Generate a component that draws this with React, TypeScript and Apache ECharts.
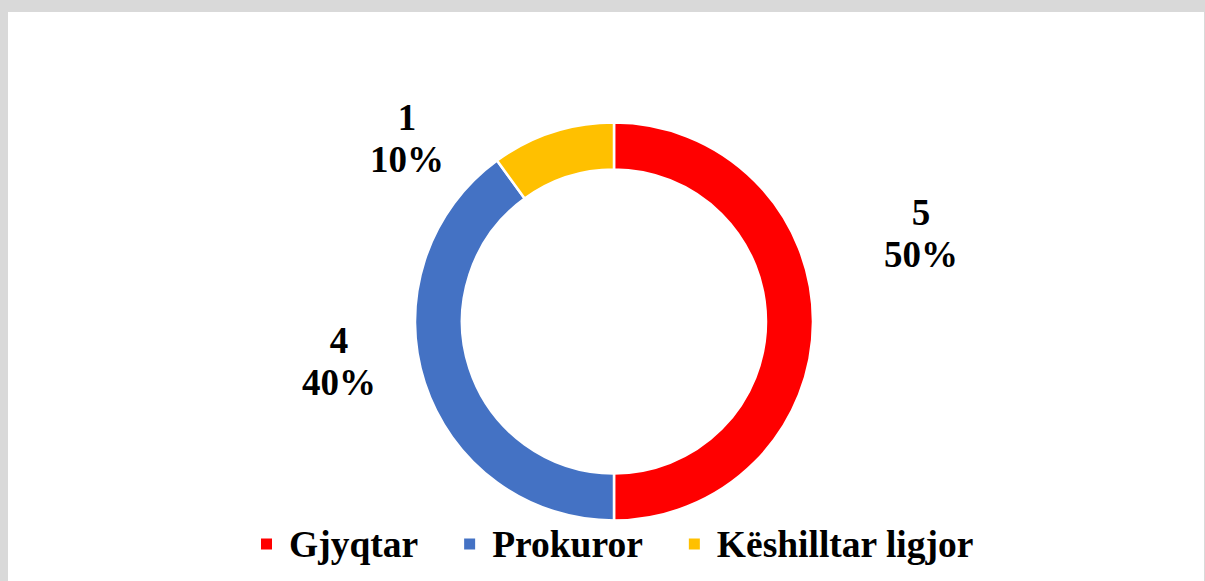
import React, { useEffect, useRef } from "react";
import * as echarts from "echarts";

const categories = ["Gjyqtar", "Prokuror", "Këshilltar ligjor"];
const values = [5, 4, 1];
const colors = ["#FF0000", "#4472C4", "#FFC000"];
// label block centre, relative to the pie centre
const labelOffsets = [
  [307, -88.5],
  [-275, 39.5],
  [-207, -183],
];
const FONT = "'Liberation Serif', 'Times New Roman', Times, serif";
const CX = 614;
const CY = 321.5;

export default function App() {
  const ref = useRef<HTMLDivElement>(null);
  useEffect(() => {
    document.body.style.margin = "0";
    const chart = echarts.init(ref.current!, null, { renderer: "svg" });
    const total = values.reduce((a, b) => a + b, 0);
    chart.setOption({
      animation: false,
      backgroundColor: "#D9D9D9",
      graphic: [
        {
          type: "rect",
          shape: { x: 8, y: 12, width: 1196, height: 569 },
          style: { fill: "#FFFFFF" },
          z: -10,
          silent: true,
        },
      ],
      legend: {
        bottom: 13,
        left: 254,
        icon: "rect",
        itemWidth: 13,
        itemHeight: 13,
        itemGap: 44,
        textStyle: {
          fontFamily: FONT,
          fontWeight: "bold",
          fontSize: 37.5,
          color: "#000",
          padding: [0, 0, 0, 11],
        },
        data: categories,
      },
      series: [
        {
          type: "pie",
          center: [CX, CY],
          radius: [152, 199],
          startAngle: 90,
          clockwise: true,
          itemStyle: { borderColor: "#FFFFFF", borderWidth: 2.5 },
          label: {
            show: true,
            position: "outside",
            fontFamily: FONT,
            fontWeight: "bold",
            fontSize: 37,
            lineHeight: 42,
            color: "#000",
            formatter: (p: any) => `${p.value}\n${Math.round((p.value / total) * 100)}%`,
          },
          labelLine: { show: false },
          labelLayout: (p: any) => ({
            x: CX + labelOffsets[p.dataIndex][0],
            y: CY + labelOffsets[p.dataIndex][1],
            align: "center",
            verticalAlign: "middle",
          }),
          data: categories.map((c, i) => ({
            name: c,
            value: values[i],
            itemStyle: { color: colors[i] },
          })),
        },
      ],
    });
    return () => chart.dispose();
  }, []);
  return <div ref={ref} style={{ width: 1205, height: 581 }} />;
}
